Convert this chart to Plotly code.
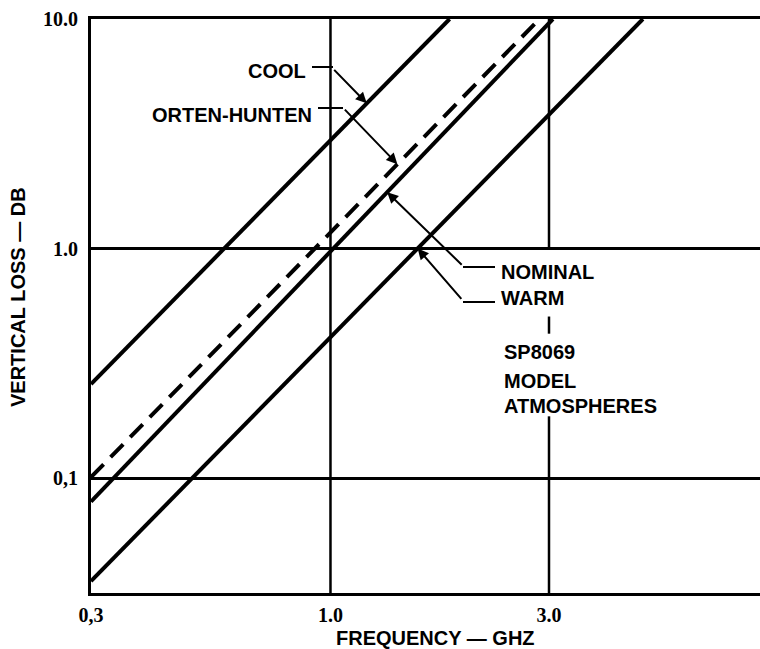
import numpy as np
import plotly.graph_objects as go

# ---- data: straight log-log loss lines (frequency in GHz, loss in dB) ----
cool_f = [0.3, 1.82]
cool_db = [0.257, 10.0]
orten_f = [0.3, 2.86]
orten_db = [0.101, 10.0]
nominal_f = [0.3, 3.06]
nominal_db = [0.079, 10.0]
warm_f = [0.3, 4.81]
warm_db = [0.0356, 10.0]

x_tickvals = [0.3, 1.0, 3.0]
x_ticktext = ["0,3", "1.0", "3.0"]
y_tickvals = [0.1, 1.0, 10.0]
y_ticktext = ["0,1", "1.0", "10.0"]

# ---- geometry ----
W, H = 760, 649
ML, MR, MT, MB = 91, 0, 19, 56
PW, PH = W - ML - MR, H - MT - MB
X_LO = np.log10(0.3)
X_HI = X_LO + PW / 458.0
Y_LO, Y_HI = -1.5, 1.0
Y_MIN = 10 ** Y_LO


def paper_x(px):
    return (px - ML) / PW


def paper_y(py):
    return 1 - (py - MT) / PH


def on_line(fs, dbs, f):
    lf, ld = np.log10(fs), np.log10(dbs)
    t = (np.log10(f) - lf[0]) / (lf[1] - lf[0])
    return 10 ** (ld[0] + t * (ld[1] - ld[0]))


fig = go.Figure()

# vertical grid lines (the 3.0 line is broken around the labels)
grid = dict(color="black", width=2.5)
for xs, ys in [
    ([1.0, 1.0], [Y_MIN, 10.0]),
    ([3.0, 3.0], [1.0, 10.0]),
    ([3.0, 3.0], [0.426, 0.506]),
    ([3.0, 3.0], [Y_MIN, 0.186]),
]:
    fig.add_trace(go.Scatter(x=xs, y=ys, mode="lines", line=grid,
                             hoverinfo="skip", showlegend=False))

solid = dict(color="black", width=4)
fig.add_trace(go.Scatter(x=cool_f, y=cool_db, mode="lines", line=solid,
                         name="COOL", showlegend=False))
fig.add_trace(go.Scatter(x=orten_f, y=orten_db, mode="lines",
                         line=dict(color="black", width=4, dash="18px,10px"),
                         name="ORTEN-HUNTEN", showlegend=False))
fig.add_trace(go.Scatter(x=nominal_f, y=nominal_db, mode="lines", line=solid,
                         name="NOMINAL", showlegend=False))
fig.add_trace(go.Scatter(x=warm_f, y=warm_db, mode="lines", line=solid,
                         name="WARM", showlegend=False))

label_font = dict(family="Liberation Sans, Arial, sans-serif", size=20,
                  color="black", weight="bold")
annotations = []

# label texts
for txt, px, py, anchor in [
    ("COOL", 308, 71, "right"),
    ("ORTEN-HUNTEN", 314, 115, "right"),
    ("NOMINAL", 499, 272, "left"),
    ("WARM", 499, 298, "left"),
    ("SP8069", 502, 352, "left"),
    ("MODEL", 502, 381, "left"),
    ("ATMOSPHERES", 502, 406, "left"),
]:
    annotations.append(dict(text=txt, x=paper_x(px), y=paper_y(py),
                            xref="paper", yref="paper", xanchor=anchor,
                            yanchor="middle", showarrow=False, font=label_font))

# leader arrows: tip sits on the line, tail at the elbow (pixel offset)
for fs, dbs, f_tip, ax, ay in [
    (cool_f, cool_db, 1.20, -34, -35),
    (orten_f, orten_db, 1.40, -54, -56),
    (nominal_f, nominal_db, 1.33, 76, 74),
    (warm_f, warm_db, 1.55, 45, 52),
]:
    annotations.append(dict(text="", x=np.log10(f_tip),
                            y=np.log10(on_line(fs, dbs, f_tip)),
                            xref="x", yref="y", ax=ax, ay=ay,
                            showarrow=True, arrowhead=2, arrowsize=1.1,
                            arrowwidth=2, arrowcolor="black", standoff=0))

# horizontal parts of the leaders
shapes = []
for x0, x1, py in [(312, 333, 67), (318, 343, 108), (463, 495, 267), (463, 495, 302)]:
    shapes.append(dict(type="line", xref="paper", yref="paper",
                       x0=paper_x(x0), x1=paper_x(x1), y0=paper_y(py), y1=paper_y(py),
                       line=dict(color="black", width=2)))

# axis titles
title_font = dict(family="Liberation Sans, Arial, sans-serif", size=20,
                  color="black", weight="bold")
annotations.append(dict(text="FREQUENCY — GHZ", x=paper_x(435), y=paper_y(638),
                        xref="paper", yref="paper", showarrow=False,
                        xanchor="center", yanchor="middle", font=title_font))
annotations.append(dict(text="VERTICAL LOSS — DB", x=paper_x(18), y=paper_y(297),
                        xref="paper", yref="paper", showarrow=False, textangle=-90,
                        xanchor="center", yanchor="middle", font=title_font))

tick_font = dict(family="Liberation Serif, Times New Roman, serif", size=20,
                 color="black", weight="bold")

fig.update_layout(
    width=W, height=H,
    margin=dict(l=ML, r=MR, t=MT, b=MB, pad=0),
    paper_bgcolor="white", plot_bgcolor="white",
    annotations=annotations, shapes=shapes,
    xaxis=dict(type="log", range=[X_LO, X_HI], tickvals=x_tickvals,
               ticktext=x_ticktext, showgrid=False, zeroline=False,
               showline=True, linecolor="black", linewidth=3, mirror=True,
               ticks="", tickfont=tick_font, ticklabelstandoff=2),
    yaxis=dict(type="log", range=[Y_LO, Y_HI], tickvals=y_tickvals,
               ticktext=y_ticktext, showgrid=True, gridcolor="black",
               gridwidth=2.5, zeroline=False, showline=True,
               linecolor="black", linewidth=3, mirror=False, ticks="",
               tickfont=tick_font, ticklabelstandoff=6),
)

fig.write_html("out.html")
